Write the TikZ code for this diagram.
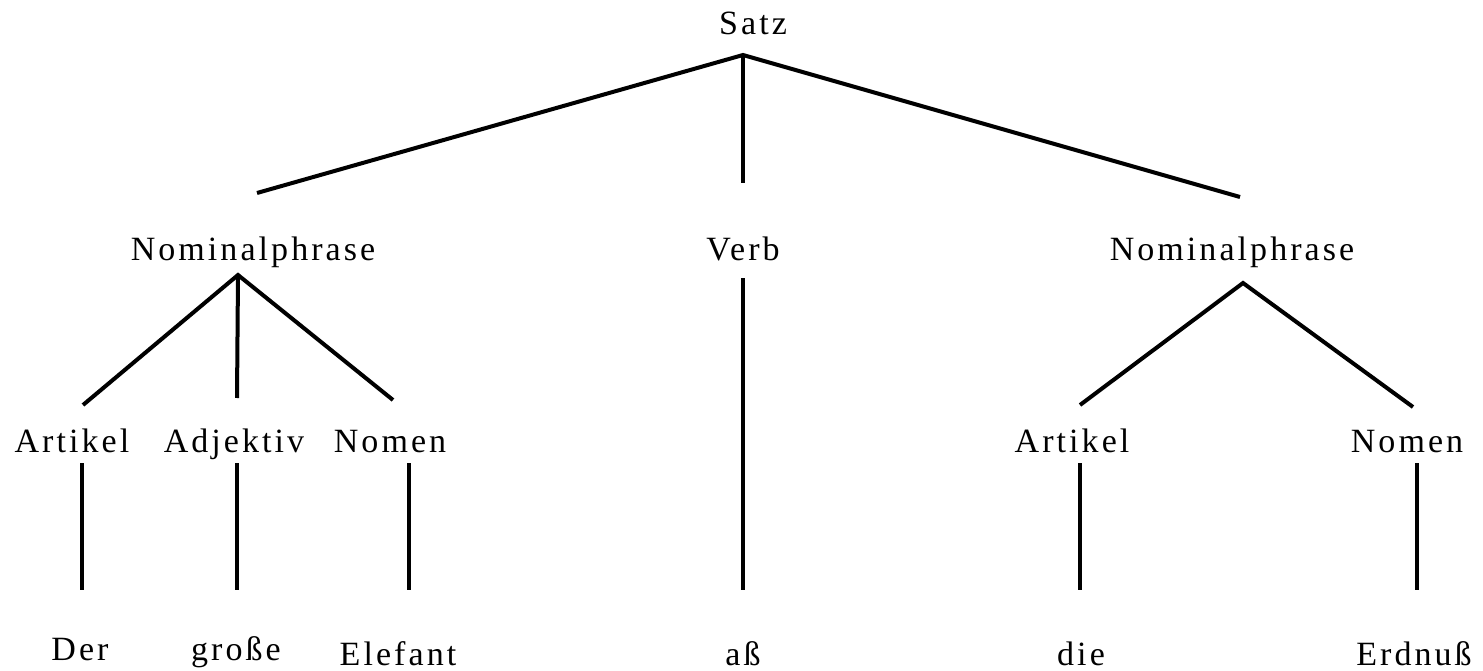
\documentclass[tikz,border=0pt]{standalone}
\usepackage{fontspec}
\setmainfont[LetterSpace=9]{Liberation Serif}
\begin{document}
\begin{tikzpicture}[x=1pt,y=-1pt,
  lbl/.style={anchor=base,inner sep=0pt,font=\fontsize{34}{40}\selectfont},
  edge/.style={line width=4pt,line cap=butt}]
\useasboundingbox[fill=white] (0,0) rectangle (1483,671);
% text nodes
\node[lbl] (satz) at (753,35) {Satz};
\node[lbl] (np1) at (253,260) {Nominalphrase};
\node[lbl] (verb) at (743,260) {Verb};
\node[lbl] (np2) at (1232,260) {Nominalphrase};
\node[lbl] (art1) at (72,452) {Artikel};
\node[lbl] (adj) at (234,452) {Adjektiv};
\node[lbl] (nom1) at (390,452) {Nomen};
\node[lbl] (art2) at (1072,452) {Artikel};
\node[lbl] (nom2) at (1407,452) {Nomen};
\node[lbl] (der) at (80,660) {Der};
\node[lbl] (grosse) at (236,660) {große};
\node[lbl] (elefant) at (398,665) {Elefant};
\node[lbl] (ass) at (743,665) {aß};
\node[lbl] (die) at (1081,665) {die};
\node[lbl] (erdnuss) at (1414,665) {Erdnuß};
% connector end points
\coordinate (satz-b) at (743,55);
\coordinate (np1-t) at (257,193);
\coordinate (verb-t) at (743,183);
\coordinate (np2-t) at (1240,197);
\coordinate (np1-b) at (238,275);
\coordinate (art1-t) at (83,405);
\coordinate (adj-t) at (237,398);
\coordinate (nom1-t) at (393,400);
\coordinate (verb-b) at (743,278);
\coordinate (ass-t) at (743,590);
\coordinate (np2-b) at (1243,283);
\coordinate (art2-t) at (1080,405);
\coordinate (nom2-t) at (1413,407);
\coordinate (art1-b) at (82,463);
\coordinate (der-t) at (82,590);
\coordinate (adj-b) at (237,463);
\coordinate (grosse-t) at (237,590);
\coordinate (nom1-b) at (409,463);
\coordinate (elefant-t) at (409,590);
\coordinate (art2-b) at (1080,463);
\coordinate (die-t) at (1080,590);
\coordinate (nom2-b) at (1417,463);
\coordinate (erdnuss-t) at (1417,590);
% connectors
\draw[edge] (np1-t) -- (satz-b) -- (np2-t);
\draw[edge] (satz-b) -- (verb-t);
\draw[edge] (art1-t) -- (np1-b) -- (nom1-t);
\draw[edge] (np1-b) -- (adj-t);
\draw[edge] (verb-b) -- (ass-t);
\draw[edge] (art2-t) -- (np2-b) -- (nom2-t);
\draw[edge] (art1-b) -- (der-t);
\draw[edge] (adj-b) -- (grosse-t);
\draw[edge] (nom1-b) -- (elefant-t);
\draw[edge] (art2-b) -- (die-t);
\draw[edge] (nom2-b) -- (erdnuss-t);
\end{tikzpicture}
\end{document}
